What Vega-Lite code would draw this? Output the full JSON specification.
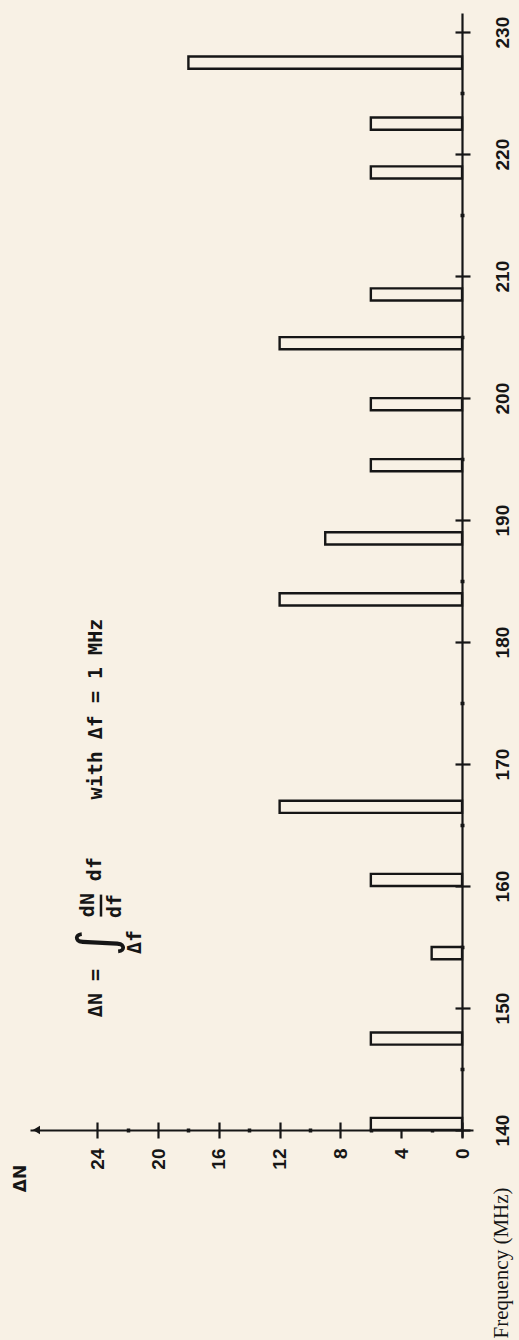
{
  "$schema": "https://vega.github.io/schema/vega-lite/v6.json",
  "width": 443,
  "height": 1124,
  "autosize": {"type": "none"},
  "padding": {"left": 30, "top": 13, "right": 46, "bottom": 203},
  "background": "#f8f1e5",
  "config": {"view": {"stroke": null}},
  "datasets": {
    "bars": [
      {"f0": 140, "f1": 141, "dN": 6},
      {"f0": 147, "f1": 148, "dN": 6},
      {"f0": 154, "f1": 155, "dN": 2},
      {"f0": 160, "f1": 161, "dN": 6},
      {"f0": 166, "f1": 167, "dN": 12},
      {"f0": 183, "f1": 184, "dN": 12},
      {"f0": 188, "f1": 189, "dN": 9},
      {"f0": 194, "f1": 195, "dN": 6},
      {"f0": 199, "f1": 200, "dN": 6},
      {"f0": 204, "f1": 205, "dN": 12},
      {"f0": 208, "f1": 209, "dN": 6},
      {"f0": 218, "f1": 219, "dN": 6},
      {"f0": 222, "f1": 223, "dN": 6},
      {"f0": 227, "f1": 228, "dN": 18}
    ],
    "one": [{}]
  },
  "resolve": {"axis": {"x": "independent", "y": "independent"}},
  "layer": [
    {
      "data": {"name": "bars"},
      "mark": {"type": "rect", "fill": "#f8f1e5", "stroke": "#161616", "strokeWidth": 2.4},
      "encoding": {
        "y": {
          "field": "f0", "type": "quantitative",
          "scale": {"domain": [139.43, 231.57], "nice": false, "zero": false},
          "axis": {
            "orient": "right", "offset": -11,
            "values": [140, 150, 160, 170, 180, 190, 200, 210, 220, 230],
            "tickSize": 8, "tickWidth": 2.2, "tickColor": "#161616",
            "domainColor": "#161616", "domainWidth": 2.2,
            "labelAngle": 270, "labelAlign": "center", "labelBaseline": "top", "labelPadding": 23,
            "labelFont": "Liberation Sans", "labelFontSize": 19, "labelFontWeight": "bold", "labelColor": "#161616",
            "labelFlush": false, "labelOverlap": false, "grid": false,
            "title": "Frequency (MHz)", "titleAngle": 270, "titleAlign": "left", "titleBaseline": "middle",
            "titleX": 39, "titleY": 1325,
            "titleFont": "Liberation Serif", "titleFontSize": 21, "titleFontWeight": "normal", "titleColor": "#161616"
          }
        },
        "y2": {"field": "f1"},
        "x": {
          "field": "dN", "type": "quantitative",
          "scale": {"domain": [-0.72, 28.42], "nice": false, "zero": false, "reverse": true},
          "axis": {
            "orient": "bottom", "offset": -7,
            "values": [0, 4, 8, 12, 16, 20, 24],
            "tickSize": 8, "tickWidth": 2.2, "tickColor": "#161616",
            "domainColor": "#161616", "domainWidth": 2.2,
            "labelAngle": 270, "labelAlign": "right", "labelBaseline": "middle", "labelPadding": 10,
            "labelFont": "Liberation Sans", "labelFontSize": 19, "labelFontWeight": "bold", "labelColor": "#161616",
            "labelFlush": false, "labelOverlap": false, "grid": false,
            "title": "ΔN", "titleAngle": 270, "titleAlign": "center", "titleBaseline": "middle",
            "titleX": -10, "titleY": 48,
            "titleFont": "DejaVu Sans", "titleFontSize": 17, "titleFontWeight": "bold", "titleColor": "#161616"
          }
        },
        "x2": {"datum": 0}
      }
    },
    {
      "data": {"name": "bars"},
      "mark": {"type": "point", "opacity": 0},
      "encoding": {
        "y": {
          "field": "f0", "type": "quantitative",
          "axis": {
            "orient": "right", "offset": -18,
            "values": [140, 150, 160, 170, 180, 190, 200, 210, 220, 230],
            "tickSize": 7, "tickWidth": 2.2, "tickColor": "#161616",
            "domain": false, "labels": false, "title": null, "grid": false
          }
        },
        "x": {
          "field": "dN", "type": "quantitative",
          "axis": {
            "orient": "bottom", "offset": -15,
            "values": [0, 4, 8, 12, 16, 20, 24],
            "tickSize": 8, "tickWidth": 2.2, "tickColor": "#161616",
            "domain": false, "labels": false, "title": null, "grid": false
          }
        }
      }
    },
    {
      "data": {"name": "bars"},
      "mark": {"type": "point", "opacity": 0},
      "encoding": {
        "y": {
          "field": "f0", "type": "quantitative",
          "axis": {
            "orient": "right", "offset": -13,
            "values": [145, 155, 165, 175, 185, 195, 205, 215, 225],
            "tickSize": 4, "tickWidth": 3.5, "tickColor": "#161616",
            "domain": false, "labels": false, "title": null, "grid": false
          }
        },
        "x": {
          "field": "dN", "type": "quantitative",
          "axis": {
            "orient": "bottom", "offset": -9,
            "values": [2, 6, 10, 14, 18, 22],
            "tickSize": 4, "tickWidth": 3.5, "tickColor": "#161616",
            "domain": false, "labels": false, "title": null, "grid": false
          }
        }
      }
    },
    {
      "data": {"name": "one"},
      "mark": {"type": "point", "shape": "triangle-left", "filled": true, "size": 70, "color": "#161616", "opacity": 1},
      "encoding": {
        "x": {"datum": 28.0, "type": "quantitative", "axis": null},
        "y": {"datum": 140, "type": "quantitative", "axis": null}
      }
    },
    {
      "data": {"name": "one"},
      "mark": {"type": "text", "text": "ΔN =", "angle": 270, "align": "center", "baseline": "middle", "font": "DejaVu Sans Mono", "fontSize": 20, "fontWeight": "bold", "color": "#161616"},
      "encoding": {
        "x": {"datum": 24.08, "type": "quantitative", "axis": null},
        "y": {"datum": 151.23, "type": "quantitative", "axis": null}
      }
    },
    {
      "data": {"name": "one"},
      "mark": {"type": "text", "text": "∫", "angle": 270, "align": "center", "baseline": "middle", "font": "DejaVu Sans", "fontSize": 52, "fontWeight": "normal", "color": "#161616"},
      "encoding": {
        "x": {"datum": 23.95, "type": "quantitative", "axis": null},
        "y": {"datum": 155.33, "type": "quantitative", "axis": null}
      }
    },
    {
      "data": {"name": "one"},
      "mark": {"type": "text", "text": "Δf", "angle": 270, "align": "center", "baseline": "middle", "font": "DejaVu Sans Mono", "fontSize": 20, "fontWeight": "bold", "color": "#161616"},
      "encoding": {
        "x": {"datum": 21.51, "type": "quantitative", "axis": null},
        "y": {"datum": 155.41, "type": "quantitative", "axis": null}
      }
    },
    {
      "data": {"name": "one"},
      "mark": {"type": "text", "text": "dN", "angle": 270, "align": "center", "baseline": "middle", "font": "DejaVu Sans Mono", "fontSize": 20, "fontWeight": "bold", "color": "#161616"},
      "encoding": {
        "x": {"datum": 24.6, "type": "quantitative", "axis": null},
        "y": {"datum": 158.44, "type": "quantitative", "axis": null}
      }
    },
    {
      "data": {"name": "one"},
      "mark": {"type": "rule", "strokeWidth": 2.5, "color": "#161616"},
      "encoding": {
        "x": {"datum": 23.75, "type": "quantitative", "axis": null},
        "y": {"datum": 157.5, "type": "quantitative", "axis": null},
        "y2": {"datum": 159.3}
      }
    },
    {
      "data": {"name": "one"},
      "mark": {"type": "text", "text": "df", "angle": 270, "align": "center", "baseline": "middle", "font": "DejaVu Sans Mono", "fontSize": 20, "fontWeight": "bold", "color": "#161616"},
      "encoding": {
        "x": {"datum": 22.83, "type": "quantitative", "axis": null},
        "y": {"datum": 158.36, "type": "quantitative", "axis": null}
      }
    },
    {
      "data": {"name": "one"},
      "mark": {"type": "text", "text": "df", "angle": 270, "align": "center", "baseline": "middle", "font": "DejaVu Sans Mono", "fontSize": 20, "fontWeight": "bold", "color": "#161616"},
      "encoding": {
        "x": {"datum": 24.14, "type": "quantitative", "axis": null},
        "y": {"datum": 161.39, "type": "quantitative", "axis": null}
      }
    },
    {
      "data": {"name": "one"},
      "mark": {"type": "text", "text": "with  Δf = 1 MHz", "angle": 270, "align": "center", "baseline": "middle", "font": "DejaVu Sans Mono", "fontSize": 20, "fontWeight": "bold", "color": "#161616"},
      "encoding": {
        "x": {"datum": 24.08, "type": "quantitative", "axis": null},
        "y": {"datum": 174.51, "type": "quantitative", "axis": null}
      }
    }
  ]
}
